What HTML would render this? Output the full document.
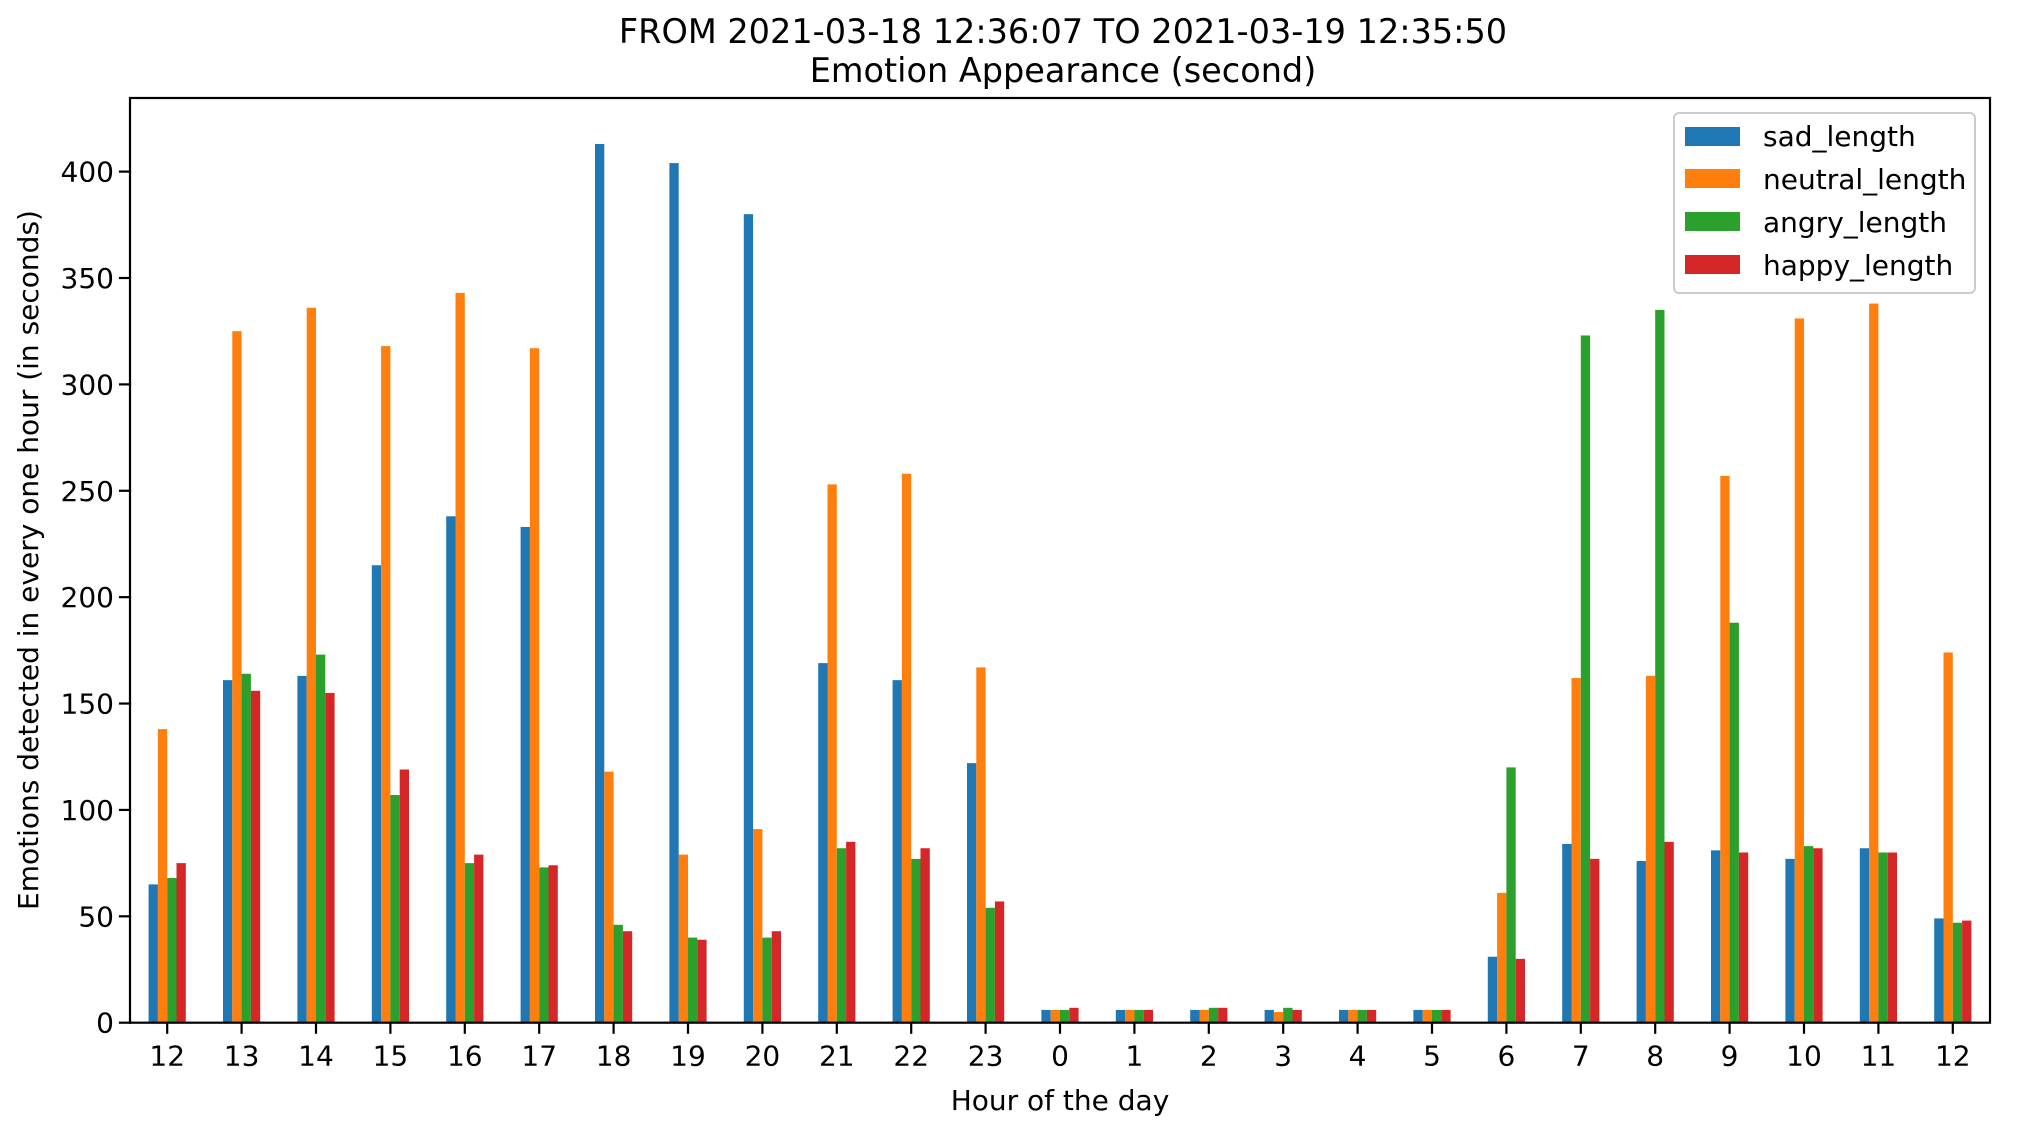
<!DOCTYPE html>
<html><head><meta charset="utf-8"><style>
html,body{margin:0;padding:0;background:#fff;}
svg text{font-family:"DejaVu Sans","Liberation Sans",sans-serif;fill:#000;}
</style></head><body>
<svg id="chart" width="2024" height="1118" viewBox="0 0 2024 1118" xmlns="http://www.w3.org/2000/svg">
<rect width="2024" height="1118" fill="#fff"/>
<text x="1063" y="43" font-size="33.5" text-anchor="middle">FROM 2021-03-18 12:36:07 TO 2021-03-19 12:35:50</text>
<text x="1063" y="82" font-size="33.5" text-anchor="middle">Emotion Appearance (second)</text>
<g id="bars"></g>
<g id="axes"></g>
<text x="1060" y="1110" font-size="28" text-anchor="middle">Hour of the day</text>
<text x="0" y="0" font-size="28" text-anchor="middle" transform="translate(38,560) rotate(-90)">Emotions detected in every one hour (in seconds)</text>
<g>
<rect x="1674" y="113" width="301" height="180" rx="5" fill="#fff" fill-opacity="0.8" stroke="#cccccc" stroke-width="2"/>
<rect x="1685" y="127" width="55" height="19" fill="#1f77b4"/>
<text x="1763" y="146" font-size="28">sad_length</text>
<rect x="1685" y="169" width="55" height="19" fill="#ff7f0e"/>
<text x="1763" y="189" font-size="28">neutral_length</text>
<rect x="1685" y="212" width="55" height="19" fill="#2ca02c"/>
<text x="1763" y="232" font-size="28">angry_length</text>
<rect x="1685" y="255" width="55" height="19" fill="#d62728"/>
<text x="1763" y="275" font-size="28">happy_length</text>
</g>
</svg>
<script>
const categories = ["12","13","14","15","16","17","18","19","20","21","22","23","0","1","2","3","4","5","6","7","8","9","10","11","12"];
const sadValues = [65,161,163,215,238,233,413,404,380,169,161,122,6,6,6,6,6,6,31,84,76,81,77,82,49];
const neutralValues = [138,325,336,318,343,317,118,79,91,253,258,167,6,6,6,5,6,6,61,162,163,257,331,338,174];
const angryValues = [68,164,173,107,75,73,46,40,40,82,77,54,6,6,7,7,6,6,120,323,335,188,83,80,47];
const happyValues = [75,156,155,119,79,74,43,39,43,85,82,57,7,6,7,6,6,6,30,77,85,80,82,80,48];
const yTicks = [0,50,100,150,200,250,300,350,400];

const NS = "http://www.w3.org/2000/svg";
const L = 130, R = 1990, T = 98, B = 1022.7, YMAX = 434.6;
const unit = (R - L) / categories.length;
function xPos(i){ return L + unit * (i + 0.5); }
function yPos(v){ return B - v / YMAX * (B - T); }
const barsG = document.getElementById('bars');
const axesG = document.getElementById('axes');
const series = [[sadValues,'#1f77b4','sad'],[neutralValues,'#ff7f0e','neutral'],[angryValues,'#2ca02c','angry'],[happyValues,'#d62728','happy']];
const bw = unit * 0.125;
series.forEach(function(s, k){
  s[0].forEach(function(v, i){
    const r = document.createElementNS(NS,'rect');
    const x = xPos(i) - 2*bw + k*bw;
    r.setAttribute('x', x); r.setAttribute('width', bw);
    r.setAttribute('y', yPos(v)); r.setAttribute('height', B - yPos(v));
    r.setAttribute('fill', s[1]);
    
    
    barsG.appendChild(r);
  });
});
function line(x1,y1,x2,y2,name){
  const l = document.createElementNS(NS,'line');
  l.setAttribute('x1',x1);l.setAttribute('y1',y1);l.setAttribute('x2',x2);l.setAttribute('y2',y2);
  l.setAttribute('stroke','#000');l.setAttribute('stroke-width','2.2');l.setAttribute('stroke-linecap','square');
  
  
  axesG.appendChild(l);
}
function text(x,y,s,anchor,name){
  const t = document.createElementNS(NS,'text');
  t.setAttribute('x',x);t.setAttribute('y',y);t.setAttribute('font-size','28');t.setAttribute('text-anchor',anchor);
  t.textContent = s;
  
  
  axesG.appendChild(t);
}
const frame = document.createElementNS(NS,'rect');
frame.setAttribute('x',L);frame.setAttribute('y',T);frame.setAttribute('width',R-L);frame.setAttribute('height',B-T);
frame.setAttribute('fill','none');frame.setAttribute('stroke','#000');frame.setAttribute('stroke-width','2.2');


axesG.appendChild(frame);
categories.forEach(function(c,i){
  line(xPos(i),B,xPos(i),B+10,'x-tick');
  text(xPos(i),B+43,c,'middle','x-tick-label');
});
yTicks.forEach(function(v){
  line(L-10,yPos(v),L,yPos(v),'y-tick');
  text(L-16,yPos(v)+10,String(v),'end','y-tick-label');
});
</script>
</body></html>
